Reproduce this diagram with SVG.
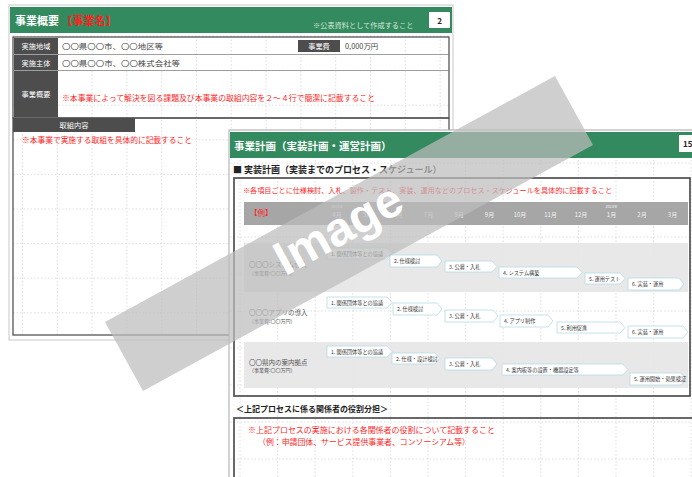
<svg xmlns="http://www.w3.org/2000/svg" width="692" height="477" viewBox="0 0 692 477">
<style>
text{font-family:"Noto Sans CJK JP","Noto Sans CJK SC",sans-serif}
.g1{stroke:#d6d6d6;stroke-width:0.8;stroke-dasharray:1.5 2;fill:none}
.dk{fill:#4d4d4d}
.wt{fill:#fff}
.red{fill:#ff1f1f}
.val{fill:#444;font-size:7.4px}
.lab{fill:#fff;font-size:7.2px;text-anchor:middle}
.chev{fill:#fff;stroke:#b4dbe4;stroke-width:0.8}
.ct{fill:#333;font-size:5.2px}
.mo{fill:#f2f2f2;font-size:6px;text-anchor:middle}
.yr{fill:#f2f2f2;font-size:3.8px;text-anchor:middle}
.rl{fill:#555;font-size:6.5px}
.rs{fill:#555;font-size:5px}
.frame{fill:none;stroke:#444;stroke-width:1.6}
</style>

<!-- Page 1 -->
<g id="page1">
<rect x="9" y="5" width="444" height="335" fill="#fff" stroke="#c8c8c8"/>
<g id="grid1">
<path class="g1" d="M22.5 36V335M57.3 36V335M92.1 36V335M126.9 36V335M161.7 36V335M196.5 36V335M231.3 36V335M266.1 36V335M300.9 36V335M335.7 36V335M370.5 36V335M405.3 36V335M440.1 36V335"/>
<path class="g1" d="M13 36H449M13 70.6H449M13 105.2H449M13 139.8H449M13 174.4H449M13 209H449M13 243.6H449M13 278.2H449M13 312.8H449"/>
</g>
<rect x="10" y="7" width="442" height="26" fill="#338a5e"/>
<text x="15" y="24.5" font-size="11" font-weight="bold" fill="#fff">事業概要 <tspan class="red">【事業名】</tspan></text>
<text x="313" y="27.5" font-size="7.2" fill="#d4e8db">※公表資料として作成すること</text>
<rect x="429" y="12" width="21" height="16" fill="#fff"/>
<text x="439.5" y="23.5" font-size="8" font-weight="bold" fill="#222" text-anchor="middle">2</text>

<g id="table1">
<rect x="13" y="37" width="436" height="81" fill="none" stroke="#555" stroke-width="1.3"/>
<path d="M13 54.5H449M13 70.5H449" stroke="#888" stroke-width="0.8"/>
<rect class="dk" x="14" y="38" width="44" height="16"/>
<rect class="dk" x="14" y="55" width="44" height="15"/>
<rect class="dk" x="14" y="71" width="44" height="46"/>
<text class="lab" x="36" y="49">実施地域</text>
<text class="lab" x="36" y="65.5">実施主体</text>
<text class="lab" x="36" y="97">事業概要</text>
<text class="val" x="62" y="49" textLength="101" lengthAdjust="spacingAndGlyphs">〇〇県〇〇市、〇〇地区等</text>
<text class="val" x="62" y="65.5" textLength="118" lengthAdjust="spacingAndGlyphs">〇〇県〇〇市、〇〇株式会社等</text>
<rect class="dk" x="298" y="40" width="42" height="12"/>
<text class="lab" x="319" y="49" font-size="7">事業費</text>
<text class="val" x="345" y="49" font-size="7.2">0,000万円</text>
<text class="red" x="62" y="100.5" font-size="7.8" textLength="313" lengthAdjust="spacingAndGlyphs">※本事業によって解決を図る課題及び本事業の取組内容を２～４行で簡潔に記載すること</text>
</g>
<g id="box1">
<rect x="13" y="118" width="436" height="217" fill="none" stroke="#555" stroke-width="1.3"/>
<rect class="dk" x="13" y="118" width="122" height="14"/>
<text class="lab" x="74" y="128">取組内容</text>
<text class="red" x="22" y="143" font-size="7.7" textLength="170" lengthAdjust="spacingAndGlyphs">※本事業で実施する取組を具体的に記載すること</text>
</g>
</g>

<!-- Page 2 -->
<g id="page2">
<rect x="229" y="130" width="475" height="355" fill="#fff" stroke="#a8a8a8"/>
<rect x="230" y="132" width="462" height="26" fill="#338a5e"/>
<text x="234" y="150" font-size="10.5" font-weight="bold" fill="#fff">事業計画（実装計画・運営計画）</text>
<rect x="679" y="135" width="20" height="17" fill="#fff"/>
<text x="683" y="147" font-size="8" font-weight="bold" fill="#222">15</text>

<g id="grid2">
<path class="g1" d="M240 160V477M277.6 160V477M315.2 160V477M352.8 160V477M390.4 160V477M428 160V477M465.6 160V477M503.2 160V477M540.8 160V477M578.4 160V477M616 160V477M653.6 160V477M691.2 160V477"/>
<path class="g1" d="M230 163H692M230 237H692M230 274H692M230 311H692M230 348H692M230 385H692M230 422H692M230 459H692"/>
</g>

<text x="233" y="173" font-size="9" font-weight="bold" fill="#222">■ 実装計画（実装までのプロセス・スケジュール）</text>

<g id="schedule">
<rect x="244" y="243" width="444" height="49" fill="#e6e6e6" fill-opacity="0.9"/>
<rect x="244" y="342" width="444" height="46" fill="#e6e6e6" fill-opacity="0.9"/>
<rect x="234" y="178" width="456" height="218" class="frame"/>
<text class="red" x="243" y="193" font-size="7.1" textLength="369" lengthAdjust="spacingAndGlyphs">※各項目ごとに仕様検討、入札、製作・テスト、実装、運用などのプロセス・スケジュールを具体的に記載すること</text>
<rect x="244" y="202" width="444" height="23" fill="#a6a6a6"/>
<text class="red" x="250" y="216" font-size="7.5">【例】</text>
<text class="yr" x="337" y="208">2023年</text>
<text class="yr" x="611.5" y="208">2024年</text>
<text class="mo" x="337" y="217">4月</text>
<text class="mo" x="367.5" y="217">5月</text>
<text class="mo" x="398" y="217">6月</text>
<text class="mo" x="428.5" y="217">7月</text>
<text class="mo" x="459" y="217">8月</text>
<text class="mo" x="489.5" y="217">9月</text>
<text class="mo" x="520" y="217">10月</text>
<text class="mo" x="550.5" y="217">11月</text>
<text class="mo" x="581" y="217">12月</text>
<text class="mo" x="611.5" y="217">1月</text>
<text class="mo" x="642" y="217">2月</text>
<text class="mo" x="672.5" y="217">3月</text>

<text class="rl" x="249" y="267">〇〇〇システム導入</text>
<text class="rs" x="249" y="275">（事業費:〇〇万円）</text>
<text class="rl" x="249" y="315">〇〇〇アプリの導入</text>
<text class="rs" x="249" y="323">（事業費:〇〇万円）</text>
<text class="rl" x="249" y="365">〇〇県内の案内拠点</text>
<text class="rs" x="249" y="372">（事業費:〇〇万円）</text>
</g>

<g id="steps">
<g id="rowA">
<polygon class="chev" points="327,248 387,248 392,253.5 387,259 327,259"/>
<text class="ct" x="331" y="255.5">1. 関係団体等との協議</text>
<polygon class="chev" points="390,255 437,255 442,261 437,267 390,267"/>
<text class="ct" x="394" y="263">2. 仕様検討</text>
<polygon class="chev" points="445,261 492,261 497,266.5 492,272 445,272"/>
<text class="ct" x="449" y="268.5">3. 公募・入札</text>
<polygon class="chev" points="499,267 577,267 582,272.5 577,278 499,278"/>
<text class="ct" x="503" y="274.5">4. システム構築</text>
<polygon class="chev" points="585,273 620,273 625,278.5 620,284 585,284"/>
<text class="ct" x="589" y="280.5">5. 運用テスト</text>
<polygon class="chev" points="628,278 679,278 684,284 679,290 628,290"/>
<text class="ct" x="632" y="286">6. 実装・運用</text>
</g>
<g id="rowB">
<polygon class="chev" points="327,297 387,297 392,302.5 387,308 327,308"/>
<text class="ct" x="331" y="304.5">1. 関係団体等との協議</text>
<polygon class="chev" points="393,303 437,303 442,309 437,315 393,315"/>
<text class="ct" x="397" y="311">2. 仕様検討</text>
<polygon class="chev" points="445,310 493,310 498,316 493,322 445,322"/>
<text class="ct" x="449" y="318">3. 公募・入札</text>
<polygon class="chev" points="500,315 548,315 553,321 548,327 500,327"/>
<text class="ct" x="504" y="323">4. アプリ制作</text>
<polygon class="chev" points="557,322 620,322 625,327.5 620,333 557,333"/>
<text class="ct" x="561" y="329.5">5. 利用促進</text>
<polygon class="chev" points="628,326 683,326 688,332 683,338 628,338"/>
<text class="ct" x="632" y="334">6. 実装・運用</text>
</g>
<g id="rowC">
<polygon class="chev" points="327,346 387,346 392,351.5 387,357 327,357"/>
<text class="ct" x="331" y="353.5">1. 関係団体等との協議</text>
<polygon class="chev" points="392,353 435,353 440,358.5 435,364 392,364"/>
<text class="ct" x="396" y="360.5">2. 仕様・設計検討</text>
<polygon class="chev" points="445,358 492,358 497,364 492,370 445,370"/>
<text class="ct" x="449" y="366">3. 公募・入札</text>
<polygon class="chev" points="502,364 623,364 628,369.5 623,375 502,375"/>
<text class="ct" x="506" y="371.5">4. 案内板等の設置・機器設定等</text>
<polygon class="chev" points="630,373 681,373 686,379 681,385 630,385"/>
<text class="ct" x="634" y="381">5. 運用開始・効果検証</text>
</g>
</g>

<g id="roles">
<text x="236" y="412" font-size="8" font-weight="bold" fill="#222">＜上記プロセスに係る関係者の役割分担＞</text>
<rect x="234" y="418" width="470" height="70" class="frame"/>
<text class="red" x="248" y="433" font-size="7.8" textLength="247" lengthAdjust="spacingAndGlyphs">※上記プロセスの実施における各関係者の役割について記載すること</text>
<text class="red" x="258" y="445" font-size="7.8" textLength="212" lengthAdjust="spacingAndGlyphs">（例：申請団体、サービス提供事業者、コンソーシアム等）</text>
</g>
</g>

<!-- Watermark -->
<g id="watermark">
<polygon points="105,322 555,76 593,145 143,391" fill="#bdbdbd" fill-opacity="0.72"/>
<text transform="translate(346,243) rotate(-28.7)" x="0" y="0" text-anchor="middle" font-size="48" font-weight="bold" fill="#fff" style="font-family:'Liberation Sans',Arial,sans-serif">Image</text>
</g>
</svg>
